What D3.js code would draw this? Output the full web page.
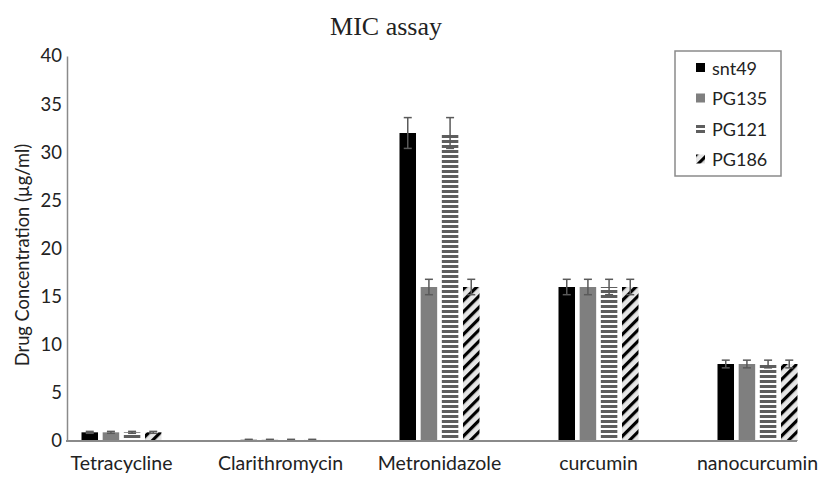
<!DOCTYPE html>
<html>
<head>
<meta charset="utf-8">
<script src="https://cdn.jsdelivr.net/npm/d3@7"></script>
<style>
  html, body { margin: 0; padding: 0; background: #fff; }
  svg { display: block; }
</style>
</head>
<body>
<svg id="chart" width="818" height="478"></svg>
<script>
// ---- data ----
const categories = ["Tetracycline", "Clarithromycin", "Metronidazole", "curcumin", "nanocurcumin"];
const seriesNames = ["snt49", "PG135", "PG121", "PG186"];
const snt49 = [0.9, 0.125, 32, 16, 8];
const PG135 = [0.9, 0.125, 16, 16, 8];
const PG121 = [0.9, 0.125, 32, 16, 8];
const PG186 = [0.9, 0.125, 16, 16, 8];
const snt49Err = [0.1, 0.05, 1.6, 0.8, 0.4];
const PG135Err = [0.1, 0.05, 0.8, 0.8, 0.4];
const PG121Err = [0.1, 0.05, 1.6, 0.8, 0.4];
const PG186Err = [0.1, 0.05, 0.8, 0.8, 0.4];
const yTicks = [0, 5, 10, 15, 20, 25, 30, 35, 40];

const values = [snt49, PG135, PG121, PG186];
const errors = [snt49Err, PG135Err, PG121Err, PG186Err];

const svg = d3.select("#chart");
const defs = svg.append("defs");

// patterns
const pH = defs.append("pattern").attr("id", "hstripe")
  .attr("patternUnits", "userSpaceOnUse").attr("width", 8).attr("height", 5);
pH.append("rect").attr("width", 8).attr("height", 5).attr("fill", "#ffffff");
pH.append("rect").attr("width", 8).attr("height", 3).attr("fill", "#5e5e5e");

const pD = defs.append("pattern").attr("id", "diag")
  .attr("patternUnits", "userSpaceOnUse").attr("width", 8).attr("height", 8)
  .attr("patternTransform", "rotate(45)");
pD.append("rect").attr("width", 8).attr("height", 8).attr("fill", "#e6e6e6");
pD.append("rect").attr("width", 3.2).attr("height", 8).attr("fill", "#000000");

const fills = ["#000000", "#7f7f7f", "url(#hstripe)", "url(#diag)"];

const font = "Lato, 'Open Sans', sans-serif";

// scales
const y = d3.scaleLinear().domain([0, 40]).range([441, 56]);
const x0 = d3.scaleBand().domain(categories).range([42, 837]);
const groupW = 80;
const x1 = d3.scaleBand().domain(seriesNames).range([0, groupW]).paddingInner(0.22);

// title
svg.append("text").attr("x", 386).attr("y", 35).attr("text-anchor", "middle")
  .attr("font-family", "'Liberation Serif', 'Times New Roman', serif")
  .attr("font-size", 26).attr("fill", "#222").text("MIC assay");

// y axis
const yAxis = d3.axisLeft(y).tickValues(yTicks).tickSize(0).tickPadding(5);
const gy = svg.append("g").attr("transform", "translate(67,0)").call(yAxis);
gy.select(".domain").attr("stroke", "#8a8a8a").attr("stroke-width", 1.5);
gy.selectAll("text").attr("font-family", font).attr("font-size", 18.5).attr("fill", "#222");

// y title
svg.append("text")
  .attr("transform", "translate(29,255) rotate(-90)")
  .attr("text-anchor", "middle")
  .attr("font-family", font).attr("font-size", 18.3).attr("fill", "#222")
  .text("Drug Concentration (µg/ml)");

// bars
const groups = svg.append("g").selectAll("g").data(categories).join("g")
  .attr("transform", c => `translate(${x0(c) + (x0.bandwidth() - groupW) / 2},0)`);

seriesNames.forEach((s, si) => {
  groups.append("rect")
    .attr("x", x1(s))
    .attr("y", (c, ci) => y(values[si][ci]))
    .attr("width", x1.bandwidth())
    .attr("height", (c, ci) => y(0) - y(values[si][ci]))
    .attr("fill", fills[si]);
});

// error bars
seriesNames.forEach((s, si) => {
  const cx = x1(s) + x1.bandwidth() / 2;
  const eg = groups.append("g").attr("stroke", "#5a5a5a").attr("stroke-width", 1.5);
  eg.append("line").attr("x1", cx).attr("x2", cx)
    .attr("y1", (c, ci) => y(values[si][ci] + errors[si][ci]))
    .attr("y2", (c, ci) => y(values[si][ci] - errors[si][ci]));
  eg.append("line").attr("x1", cx - 4).attr("x2", cx + 4)
    .attr("y1", (c, ci) => y(values[si][ci] + errors[si][ci]))
    .attr("y2", (c, ci) => y(values[si][ci] + errors[si][ci]));
  eg.append("line").attr("x1", cx - 4).attr("x2", cx + 4)
    .attr("y1", (c, ci) => y(values[si][ci] - errors[si][ci]))
    .attr("y2", (c, ci) => y(values[si][ci] - errors[si][ci]));
});

// x axis
const xAxis = d3.axisBottom(x0).tickSize(0).tickPadding(15);
const gx = svg.append("g").attr("transform", "translate(0,441)").call(xAxis);
gx.select(".domain").remove();
gx.selectAll("text").attr("font-family", font).attr("font-size", 19.5).attr("fill", "#222");
svg.append("line").attr("x1", 66).attr("x2", 797).attr("y1", 441).attr("y2", 441)
  .attr("stroke", "#8a8a8a").attr("stroke-width", 2);

// legend
const lg = svg.append("g");
lg.append("rect").attr("x", 675).attr("y", 51).attr("width", 106).attr("height", 125)
  .attr("fill", "#fff").attr("stroke", "#8a8a8a").attr("stroke-width", 1.5);
seriesNames.forEach((s, i) => {
  const yy = 68 + i * 30.5;
  lg.append("rect").attr("x", 696).attr("y", yy - 5).attr("width", 9).attr("height", 9)
    .attr("fill", fills[i]);
  lg.append("text").attr("x", 712).attr("y", yy + 6.5)
    .attr("font-family", font).attr("font-size", 18).attr("fill", "#222").text(s);
});
</script>
</body>
</html>
